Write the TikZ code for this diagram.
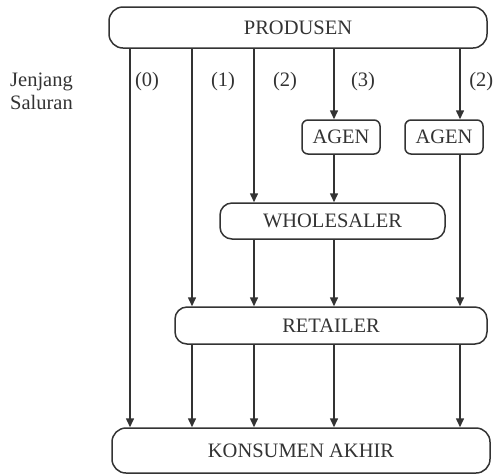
\documentclass[tikz,border=0pt]{standalone}
\usepackage{fontspec}
\setmainfont{Liberation Serif}
\usetikzlibrary{arrows.meta}
\definecolor{ink}{HTML}{333333}
\begin{document}
\begin{tikzpicture}[x=1pt,y=-1pt,
  box/.style={draw=ink,line width=1.5pt,text=ink,inner sep=0pt,
    font=\fontsize{20.5}{23}\selectfont},
  lbl/.style={text=ink,inner sep=0pt,font=\fontsize{20.5}{23}\selectfont},
  arr/.style={draw=ink,line width=1.5pt,-{Triangle[length=9pt,width=8pt]}}]
\useasboundingbox[fill=white] (0,0) rectangle (494,475);

% channel columns
\coordinate (c0) at (130,0);
\coordinate (c1) at (192,0);
\coordinate (c2) at (254,0);
\coordinate (c3) at (334,0);
\coordinate (c4) at (460,0);

% boxes
\node[box,rounded corners=14pt,minimum width=378pt,minimum height=41pt] (prod) at (298,27.5) {PRODUSEN};
\node[box,rounded corners=6pt,minimum width=78pt,minimum height=34pt] (agenA) at (341,137) {AGEN};
\node[box,rounded corners=6pt,minimum width=78pt,minimum height=34pt] (agenB) at (444,137) {AGEN};
\node[box,rounded corners=12pt,minimum width=225pt,minimum height=36pt] (whole) at (332.5,221) {WHOLESALER};
\node[box,rounded corners=12pt,minimum width=312pt,minimum height=37pt] (ret) at (331,325.5) {RETAILER};
\node[box,rounded corners=14pt,minimum width=378pt,minimum height=45pt] (kons) at (301,450.5) {KONSUMEN AKHIR};

% side caption and channel levels
\node[lbl,align=left,anchor=west] (jenjang) at (10,91) {Jenjang\\Saluran};
\node[lbl] (l0) at (147,82) {(0)};
\node[lbl] (l1) at (223,82) {(1)};
\node[lbl] (l2) at (285,82) {(2)};
\node[lbl] (l3) at (363,82) {(3)};
\node[lbl,anchor=east] (l4) at (493.5,82) {(2)};

% flows from the producer
\draw[arr] (prod.south -| c0) -- (kons.north -| c0);
\draw[arr] (prod.south -| c1) -- (ret.north -| c1);
\draw[arr] (prod.south -| c2) -- (whole.north -| c2);
\draw[arr] (prod.south -| c3) -- (agenA.north -| c3);
\draw[arr] (prod.south -| c4) -- (agenB.north -| c4);

% agents onwards
\draw[arr] (agenA.south -| c3) -- (whole.north -| c3);
\draw[arr] (agenB.south -| c4) -- (ret.north -| c4);

% wholesaler to retailer
\draw[arr] (whole.south -| c2) -- (ret.north -| c2);
\draw[arr] (whole.south -| c3) -- (ret.north -| c3);

% retailer to final consumer
\draw[arr] (ret.south -| c1) -- (kons.north -| c1);
\draw[arr] (ret.south -| c2) -- (kons.north -| c2);
\draw[arr] (ret.south -| c3) -- (kons.north -| c3);
\draw[arr] (ret.south -| c4) -- (kons.north -| c4);
\end{tikzpicture}
\end{document}
